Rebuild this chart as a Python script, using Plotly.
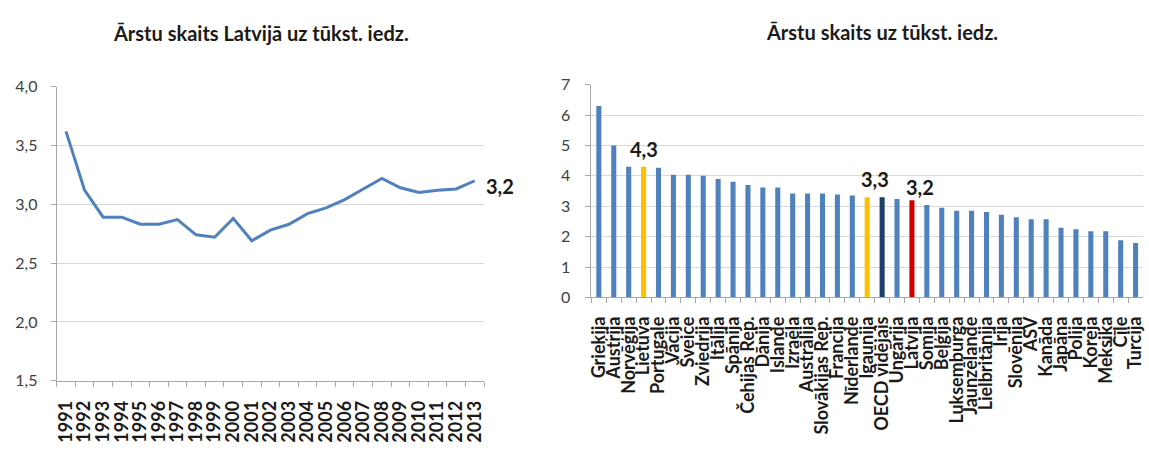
import plotly.graph_objects as go

# Latvia: doctors per 1000 inhabitants, 1991-2013
years = [str(y) for y in range(1991, 2014)]
latvia_values = [3.62, 3.12, 2.89, 2.89, 2.83, 2.83, 2.87, 2.74, 2.72, 2.88, 2.69,
                 2.78, 2.83, 2.92, 2.97, 3.04, 3.13, 3.22, 3.14, 3.10, 3.12, 3.13, 3.20]

# OECD comparison: doctors per 1000 inhabitants
countries = ["Grieķija", "Austrija", "Norvēģija", "Lietuva", "Portugale", "Vācija", "Šveice",
             "Zviedrija", "Itālija", "Spānija", "Čehijas Rep.", "Dānija", "Islande", "Izraēla",
             "Austrālija", "Slovākijas Rep.", "Francija", "Nīderlande", "Igaunija",
             "OECD vidējais", "Ungārija", "Latvija", "Somija", "Beļģija", "Luksemburga",
             "Jaunzēlande", "Lielbritānija", "Īrija", "Slovēnija", "ASV", "Kanāda", "Japāna",
             "Polija", "Koreja", "Meksika", "Čīle", "Turcija"]
country_values = [6.3, 5.0, 4.3, 4.3, 4.27, 4.04, 4.04, 4.0, 3.9, 3.81, 3.7, 3.62, 3.62, 3.42,
                  3.42, 3.42, 3.39, 3.35, 3.3, 3.3, 3.24, 3.2, 3.04, 2.95, 2.85, 2.85, 2.81,
                  2.72, 2.64, 2.57, 2.57, 2.29, 2.24, 2.18, 2.18, 1.88, 1.79]
highlight = {"Lietuva": "#ffc000", "Igaunija": "#ffc000",
             "OECD vidējais": "#1f3e6c", "Latvija": "#d00000"}
labelled = ["Lietuva", "Igaunija", "Latvija"]
# pixel nudges (x, y) for the value labels above the bars
label_nudge = {"Lietuva": (0, 4), "Igaunija": (8, 4), "Latvija": (8, -1)}

BLUE = "#4f81bd"
GRID = "#d9d9d9"
AXIS = "#a6a6a6"
TXT = "#404040"
DARK = "#1a1a1a"
FONT = "Lato"

W, H = 1149, 452


def px_x(a, b):
    return [a / W, b / W]


def px_y(top, bottom):
    return [1 - bottom / H, 1 - top / H]


fig = go.Figure()

fig.add_trace(go.Scatter(
    x=years, y=latvia_values, mode="lines",
    line=dict(color=BLUE, width=3),
    xaxis="x", yaxis="y", hoverinfo="x+y"))

bar_colors = [highlight.get(c, BLUE) for c in countries]
fig.add_trace(go.Bar(
    x=countries, y=country_values, marker=dict(color=bar_colors, line=dict(width=0)),
    xaxis="x2", yaxis="y2", width=0.34))

fmt = lambda v: f"{v:.1f}".replace(".", ",")

annotations = [
    dict(text="<b>Ārstu skaits Latvijā uz tūkst. iedz.</b>", x=258 / W, y=1 - 24 / H,
         xref="paper", yref="paper", xanchor="center", yanchor="middle", showarrow=False,
         font=dict(size=20, color=DARK, family=FONT)),
    dict(text="<b>Ārstu skaits uz tūkst. iedz.</b>", x=882 / W, y=1 - 23 / H,
         xref="paper", yref="paper", xanchor="center", yanchor="middle", showarrow=False,
         font=dict(size=20, color=DARK, family=FONT)),
    dict(text=f"<b>{fmt(latvia_values[-1])}</b>", x=len(years) - 1, y=latvia_values[-1],
         xref="x", yref="y", showarrow=False, xanchor="left", xshift=9, yshift=-5,
         font=dict(size=20, color=DARK, family=FONT)),
]
for name in labelled:
    i = countries.index(name)
    dx, dy = label_nudge[name]
    annotations.append(dict(
        text=f"<b>{fmt(country_values[i])}</b>", x=i, y=country_values[i],
        xref="x2", yref="y2", showarrow=False, yanchor="bottom", xshift=dx, yshift=dy,
        font=dict(size=20, color=DARK, family=FONT)))

tickfont_y = dict(size=16, color=TXT, family=FONT)
tickfont_x = dict(size=18, color=DARK, family=FONT, weight="bold")

fig.update_layout(
    width=W, height=H, margin=dict(l=0, r=0, t=0, b=0),
    paper_bgcolor="white", plot_bgcolor="white",
    showlegend=False, separators=", ",
    font=dict(family=FONT),
    annotations=annotations,
    xaxis=dict(domain=px_x(52, 482), type="category", range=[-0.5, 22.5],
               tickmode="array", tickvals=years, ticktext=years,
               showline=True, linecolor=AXIS, linewidth=1, tickson="boundaries",
               ticks="outside", ticklen=5, tickcolor=AXIS, tickangle=-90,
               ticklabelstandoff=12, tickfont=tickfont_x, showgrid=False, anchor="y"),
    yaxis=dict(domain=px_y(80, 387), range=[1.5, 4.0], dtick=0.5, tickformat=".1f",
               showline=True, linecolor=AXIS, linewidth=1, gridcolor=GRID,
               ticks="outside", ticklen=5, tickcolor=AXIS, tickfont=tickfont_y,
               ticklabelstandoff=10, zeroline=False, anchor="x"),
    xaxis2=dict(domain=px_x(590, 1145), type="category", range=[-0.5, 36.5],
                tickmode="array", tickvals=countries, ticktext=countries,
                showline=True, linecolor=AXIS, linewidth=1, tickson="boundaries",
                ticks="outside", ticklen=5, tickcolor=AXIS, tickangle=-90,
                ticklabelstandoff=11, tickfont=tickfont_x, showgrid=False, anchor="y2"),
    yaxis2=dict(domain=px_y(78, 300), range=[0, 7], dtick=1,
                showline=True, linecolor=AXIS, linewidth=1, gridcolor=GRID,
                ticks="outside", ticklen=5, tickcolor=AXIS, tickfont=tickfont_y,
                ticklabelstandoff=12, zeroline=False, anchor="x2"),
)

fig.write_html("out.html")
